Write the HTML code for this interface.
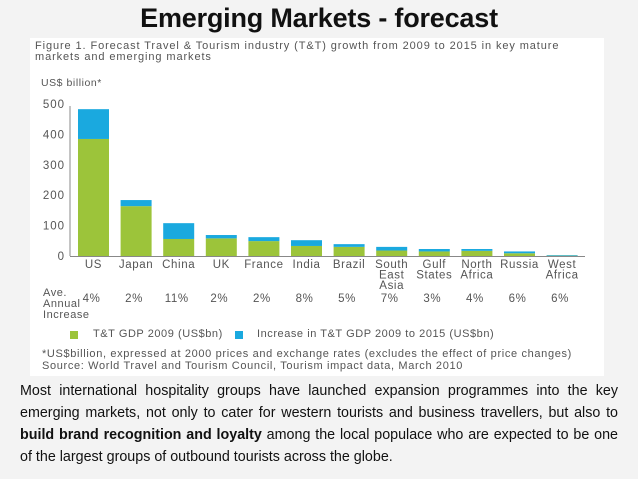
<!DOCTYPE html>
<html><head><meta charset="utf-8"><style>
body{margin:0;width:638px;height:479px;background:#f3f3f3;font-family:"Liberation Sans",sans-serif;overflow:hidden;position:relative}
.t{position:absolute;color:#555;font-size:11px;letter-spacing:0.55px;white-space:nowrap}
#title{position:absolute;left:0;width:638px;top:3px;text-align:center;font-size:27px;font-weight:bold;color:#111;letter-spacing:-0.2px}
#panel{position:absolute;left:30px;top:38px;width:574px;height:338px;background:#fff}
#body{position:absolute;left:20px;top:380px;width:598px;font-size:14.3px;line-height:22px;color:#111;text-align:justify}
</style></head><body>
<div id="title">Emerging Markets - forecast</div>
<div id="panel"></div>
<div class="t" style="left:35px;top:41px;line-height:11px;letter-spacing:0.9px">Figure 1. Forecast Travel &amp; Tourism industry (T&amp;T) growth from 2009 to 2015 in key mature<br>markets and emerging markets</div>
<div class="t" style="left:41px;top:77px;font-size:10.5px">US$ billion*</div>
<svg id="chart" width="638" height="479" style="position:absolute;left:0;top:0"></svg>
<div class="t" style="left:43px;top:288px;line-height:11px">Ave.<br>Annual<br>Increase</div>
<div style="position:absolute;left:70px;top:331px;width:8px;height:8px;background:#9cc43a"></div>
<div class="t" style="left:93px;top:328px">T&amp;T GDP 2009 (US$bn)</div>
<div style="position:absolute;left:235px;top:331px;width:8px;height:8px;background:#1aa9df"></div>
<div class="t" style="left:257px;top:328px">Increase in T&amp;T GDP 2009 to 2015 (US$bn)</div>
<div class="t" style="left:42px;top:348px;line-height:12px;letter-spacing:0.65px">*US$billion, expressed at 2000 prices and exchange rates (excludes the effect of price changes)<br>Source: World Travel and Tourism Council, Tourism impact data, March 2010</div>
<div id="body">Most international hospitality groups have launched expansion programmes into the key emerging markets, not only to cater for western tourists and business travellers, but also to <b>build brand recognition and loyalty</b> among the local populace who are expected to be one of the largest groups of outbound tourists across the globe.</div>
<script>
const categories=["US","Japan","China","UK","France","India","Brazil","South\nEast\nAsia","Gulf\nStates","North\nAfrica","Russia","West\nAfrica"];
const gdp2009=[385,164,56,58,49,33,30,18,15,17,9,1];
const increase=[98,20,52,11,13,19,9,12,8,6,6,2];
const growth=["4%","2%","11%","2%","2%","8%","5%","7%","3%","4%","6%","6%"];
const yTicks=[0,100,200,300,400,500];
const svg=document.getElementById('chart');const NS="http://www.w3.org/2000/svg";
const y=v=>256-v*0.304;const x=i=>78+i*42.6;const bw=31;
function mk(t,a,p){const e=document.createElementNS(NS,t);for(const k in a)e.setAttribute(k,a[k]);(p||svg).appendChild(e);return e;}
yTicks.forEach(v=>{const e=mk('text',{x:65,y:y(v)+4,'text-anchor':'end','font-size':11.5,'letter-spacing':1,fill:'#555','font-family':'Liberation Sans'});e.textContent=v;

});
const ax=mk('line',{x1:70,y1:y(0),x2:70,y2:y(500)+2,stroke:'#888','stroke-width':1});


const bx=mk('line',{x1:70,y1:y(0)+0.5,x2:585,y2:y(0)+0.5,stroke:'#888','stroke-width':1});


categories.forEach((c,i)=>{
 const g=mk('rect',{x:x(i),y:y(gdp2009[i]),width:bw,height:y(0)-y(gdp2009[i]),fill:'#9cc43a'});
 
 
 const b=mk('rect',{x:x(i),y:y(gdp2009[i]+increase[i]),width:bw,height:y(gdp2009[i])-y(gdp2009[i]+increase[i]),fill:'#1aa9df'});
 
 
 const lines=c.split("\n");
 const t=mk('text',{x:x(i)+bw/2,y:268,'text-anchor':'middle','font-size':11.5,'letter-spacing':0.6,fill:'#555','font-family':'Liberation Sans'});
 lines.forEach((l,k)=>{const s=mk('tspan',{x:x(i)+bw/2,dy:k?10.5:0},t);s.textContent=l;});
 
 
 const p=mk('text',{x:x(i)+bw/2-2,y:302,'text-anchor':'middle','font-size':11.5,'letter-spacing':0.6,fill:'#555','font-family':'Liberation Sans'});p.textContent=growth[i];
 
 
});
</script>
</body></html>
